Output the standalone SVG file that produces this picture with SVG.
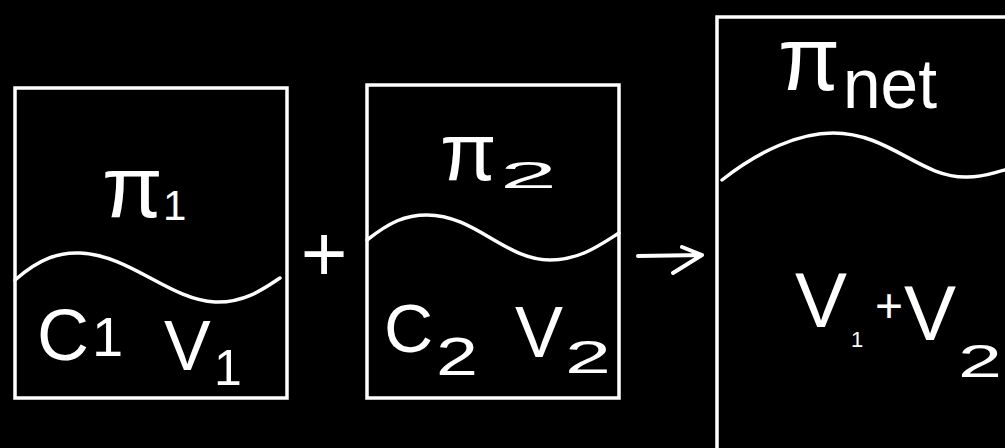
<svg xmlns="http://www.w3.org/2000/svg" width="1005" height="448" viewBox="0 0 1005 448">
<style>
.box{fill:none;stroke:#fff;stroke-width:3.5}
.wave{fill:none;stroke:#fff;stroke-width:3.5;stroke-linecap:round}
.t{fill:#fff;font-family:"Liberation Sans","DejaVu Sans",sans-serif}
.conn{fill:none;stroke:#fff;stroke-width:4;stroke-linecap:round;stroke-linejoin:round}
</style>
<rect x="0" y="0" width="1005" height="448" fill="#000"/>
<g id="box1">
<rect class="box" x="15" y="88" width="272" height="310"/>
<path class="wave" d="M15,280 C40,258 60,252 80,253 C130,255 170,300 215,302 C245,303 265,288 280,278"/>
<text class="t" x="102" y="217" font-size="88">π</text>
<text class="t" x="163" y="220" font-size="42">1</text>
<text class="t" x="37" y="360" font-size="72">C</text>
<text class="t" x="92" y="356" font-size="56">1</text>
<text class="t" x="164" y="370" font-size="70">V</text>
<text class="t" x="214" y="385" font-size="50">1</text>
</g>
<g id="plus">
<text class="t" x="324" y="281" font-size="80" text-anchor="middle">+</text>
</g>
<g id="box2">
<rect class="box" x="367" y="85" width="252" height="313"/>
<path class="wave" d="M367,240 C390,222 405,215 427,215 C475,215 505,260 550,260 C580,260 600,245 619,233"/>
<text class="t" x="440" y="180" font-size="82">π</text>
<text class="t" x="500" y="188" font-size="36" textLength="57" lengthAdjust="spacingAndGlyphs">2</text>
<text class="t" x="384" y="352" font-size="68">C</text>
<text class="t" x="436" y="375" font-size="53" textLength="42" lengthAdjust="spacingAndGlyphs">2</text>
<text class="t" x="515" y="357" font-size="72">V</text>
<text class="t" x="565" y="373" font-size="46" textLength="46" lengthAdjust="spacingAndGlyphs">2</text>
</g>
<g id="connectors">
<path class="conn" d="M638,256 L702,255 M682,247 L702,255 L673,273"/>
</g>
<g id="box3">
<rect class="box" x="717" y="17" width="300" height="450"/>
<path class="wave" d="M722,180 C760,150 800,133 833,133 C890,133 920,178 967,177 C985,177 995,172 1005,170"/>
<text class="t" x="778" y="90" font-size="90">π</text>
<text class="t" x="843" y="108" font-size="70" textLength="94" lengthAdjust="spacingAndGlyphs">net</text>
<text class="t" x="795" y="327" font-size="78">V</text>
<text class="t" x="851" y="347" font-size="22">1</text>
<text class="t" x="889" y="322" font-size="48" text-anchor="middle">+</text>
<text class="t" x="904" y="340" font-size="78">V</text>
<text class="t" x="958" y="377" font-size="47" textLength="44" lengthAdjust="spacingAndGlyphs">2</text>
</g>
</svg>
